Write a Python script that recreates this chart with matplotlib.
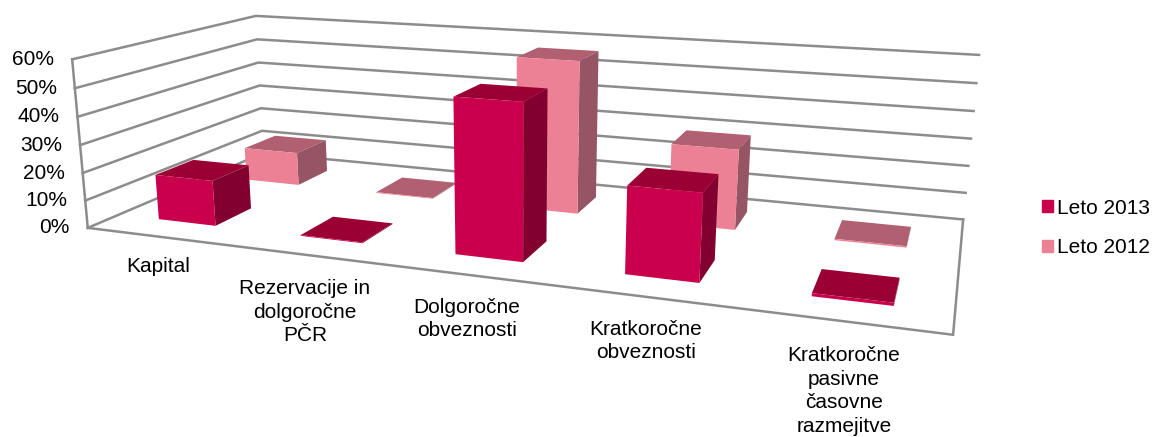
import numpy as np
import matplotlib
matplotlib.use('Agg')
import matplotlib.pyplot as plt
from matplotlib.patches import Patch

plt.rcParams['font.family'] = ['Liberation Sans', 'DejaVu Sans']

# podatki
kategorije = ['Kapital', 'Rezervacije in\ndolgoročne\nPČR', 'Dolgoročne\nobveznosti',
              'Kratkoročne\nobveznosti', 'Kratkoročne\npasivne\nčasovne\nrazmejitve']
leto_2013 = [16.5, 0.3, 53, 29, 1.0]
leto_2012 = [13, 0.3, 56.5, 29, 0.5]
y_oznake = [0, 10, 20, 30, 40, 50, 60]

W, H = 1155, 437
SIRINA = 0.41   # sirina stolpca v kategoriji
GLOBINA = 0.2   # globina stolpca

# perspektiva: vogali grafa (x, y, z) -> piksli na sliki
tocke_3d = np.array([[0, 0, 0], [0, 0, 60], [0, 1, 60], [0, 1, 0], [0, 1, 10],
                     [5, 1, 60], [5, 1, 0], [5, 1, 10], [5, 0, 0]], dtype=float)
tocke_px = np.array([[88, 228], [72, 59], [256, 16], [263, 153], [262, 131],
                     [979, 55], [963, 219], [966, 193], [953, 335]], dtype=float)

A = []
b = []
for (X, Y, Z), (u, v) in zip(tocke_3d, tocke_px):
    A.append([X, Y, Z, 1, 0, 0, 0, 0, -u * X, -u * Y, -u * Z])
    b.append(u)
    A.append([0, 0, 0, 0, X, Y, Z, 1, -v * X, -v * Y, -v * Z])
    b.append(v)
p = np.linalg.lstsq(np.array(A), np.array(b), rcond=None)[0]
P = np.append(p, 1.0).reshape(3, 4)
M = np.array([P[0], P[1], [0, 0, 0, -1.0], P[2]])


def v_piksle(x, y, z):
    q = P @ np.array([x, y, z, 1.0])
    return q[0] / q[2], q[1] / q[2]


fig = plt.figure(figsize=(W / 100, H / 100), dpi=100)
ax = fig.add_axes([0, 0, 1, 1], projection='3d')
ax.set_axis_off()
ax.set_proj_type('ortho')  # brez rezanja crt, matriko damo sami
ax.computed_zorder = False
ax.get_proj = lambda: M
ax.apply_aspect = lambda position=None: None

# mreza in tla
siva = '#8c8c8c'
for z in y_oznake:
    ax.plot([0, 0, 5], [0, 1, 1], [z, z, z], color=siva, lw=1.8, zorder=1, solid_joinstyle='miter')
ax.plot([0, 0], [0, 0], [0, 60], color=siva, lw=1.8, zorder=1)
ax.plot([0, 5, 5], [0, 0, 1], [0, 0, 0], color=siva, lw=1.8, zorder=1, solid_joinstyle='miter')

barve_2013 = ['none', '#9b0035', '#c9004c', 'none', 'none', '#820030']
barve_2012 = ['none', '#b06070', '#ec8094', 'none', 'none', '#955564']

# zadnja vrsta najprej
zo = 2
for vrednosti, y0, barve in [(leto_2012, 0.65, barve_2012), (leto_2013, 0.15, barve_2013)]:
    for i, v in enumerate(vrednosti):
        ax.bar3d(i + 0.5 - SIRINA / 2, y0, 0, SIRINA, GLOBINA, v, color=barve, shade=False,
                 linewidth=0, zorder=zo)
        zo += 1

ax.viewLim.intervalx = (0, W)
ax.viewLim.intervaly = (H, 0)

# oznake na y osi
for z in y_oznake:
    px, py = v_piksle(0, 0, z)
    fig.text((px - 18) / W, 1 - py / H, f'{z}%', ha='right', va='center', fontsize=15, color='black')

# oznake kategorij
polozaji = [(158, 267), (305, 312), (467, 319), (646, 341), (844, 391)]
for k, (px, py) in zip(kategorije, polozaji):
    fig.text(px / W, 1 - py / H, k, ha='center', va='center', ma='center', fontsize=15,
             color='black', linespacing=1.33)

fig.legend(handles=[Patch(color='#c9004c', label='Leto 2013'), Patch(color='#ec8094', label='Leto 2012')],
           loc='center left', bbox_to_anchor=(1023 / W, 1 - 228 / H), frameon=False, fontsize=15,
           handlelength=0.55, handleheight=0.55, handletextpad=0.2, labelspacing=1.0)

fig.savefig('out.png', dpi=100)
